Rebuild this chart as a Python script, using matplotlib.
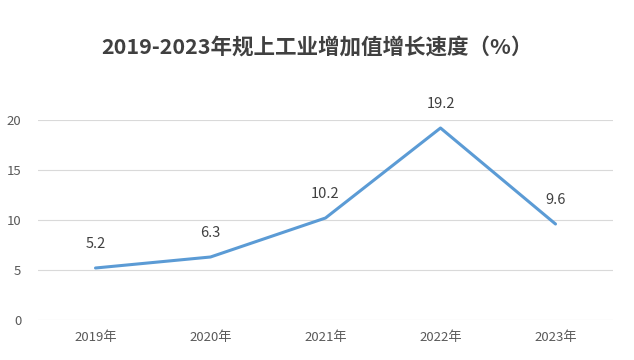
import matplotlib
matplotlib.use("Agg")
import matplotlib.pyplot as plt

years = ["2019年", "2020年", "2021年", "2022年", "2023年"]
growth = [5.2, 6.3, 10.2, 19.2, 9.6]
yticks = [0, 5, 10, 15, 20]
title = "2019-2023年规上工业增加值增长速度（%）"

plt.rcParams['font.family'] = ['Noto Sans CJK SC', 'DejaVu Sans']

fig = plt.figure(figsize=(6.34, 3.6), dpi=100)
ax = fig.add_axes([38/634, 1-320/360, 575/634, 200/360])

x = list(range(len(years)))
ax.plot(x, growth, color="#5B9BD5", lw=2.2, solid_capstyle="round", zorder=3)
for xi, v in zip(x, growth):
    ax.annotate(f"{v}", (xi, v), xytext=(0, 24), textcoords="offset pixels",
                ha="center", va="center", fontsize=10.5, color="#404040")

ax.set_xlim(-0.5, len(years) - 0.5)
ax.set_ylim(0, 20)
ax.set_yticks(yticks)
ax.set_xticks(x)
ax.set_xticklabels(years)
ax.grid(axis="y", color="#D9D9D9", lw=0.8)
ax.set_axisbelow(True)
for s in ax.spines.values():
    s.set_visible(False)
ax.tick_params(length=0, labelsize=9.5, colors="#595959")
ax.tick_params(axis="y", pad=12)
ax.tick_params(axis="x", pad=8)

fig.text(0.5, 1-47/360, title, ha="center", va="center", fontsize=15.5,
         fontweight="bold", color="#404040")

fig.savefig("out.png", dpi=100, facecolor="white")
